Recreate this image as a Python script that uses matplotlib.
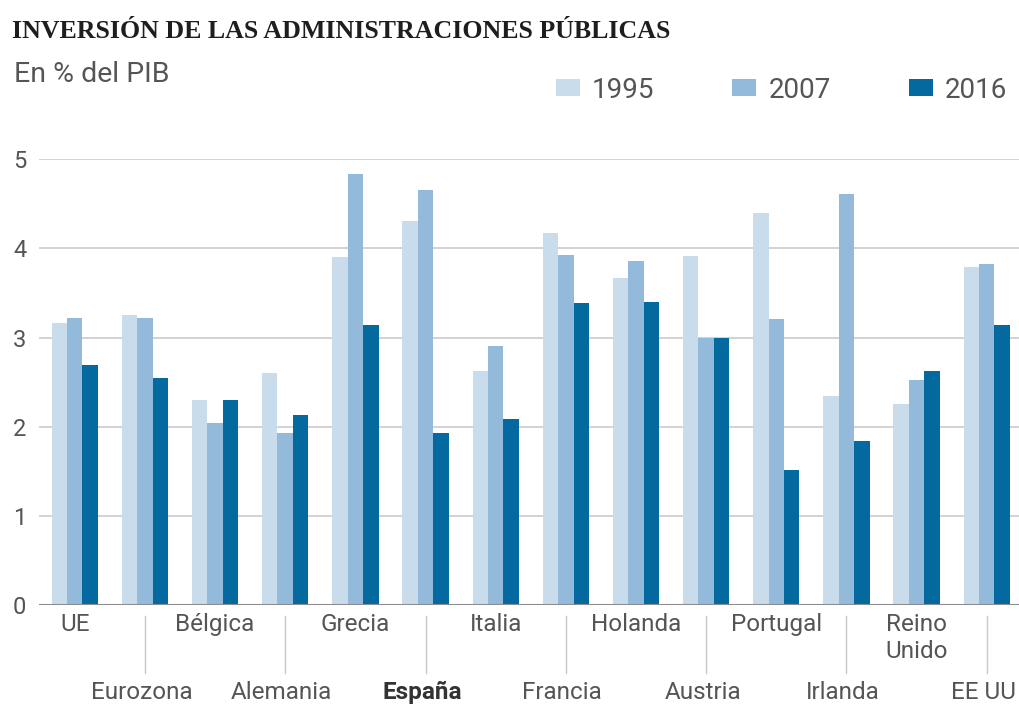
import matplotlib
matplotlib.use("Agg")
import matplotlib.pyplot as plt
import numpy as np

categories = ["UE", "Eurozona", "Bélgica", "Alemania", "Grecia", "España", "Italia",
              "Francia", "Holanda", "Austria", "Portugal", "Irlanda", "Reino\nUnido", "EE UU"]
years = ["1995", "2007", "2016"]
v1995 = [3.16, 3.25, 2.30, 2.60, 3.90, 4.31, 2.63, 4.17, 3.67, 3.91, 4.40, 2.35, 2.26, 3.79]
v2007 = [3.22, 3.22, 2.04, 1.93, 4.84, 4.65, 2.90, 3.93, 3.86, 3.00, 3.21, 4.61, 2.52, 3.82]
v2016 = [2.69, 2.55, 2.30, 2.13, 3.14, 1.93, 2.09, 3.39, 3.40, 3.00, 1.51, 1.84, 2.62, 3.14]
yticks = [0, 1, 2, 3, 4, 5]

colors = ["#c9dcec", "#94badb", "#04699f"]
W, H = 1020, 704
fig = plt.figure(figsize=(W / 100, H / 100), dpi=100)
ax_l, ax_r, ax_b, ax_t = 39, 1020, 605, 159.3
ax = fig.add_axes([ax_l / W, 1 - ax_b / H, (ax_r - ax_l) / W, (ax_b - ax_t) / H])

FONT = "Roboto"
GREY = "#555555"
x = np.arange(len(categories))
bw = 0.22
handles = []
for k, (vals, c) in enumerate(zip([v1995, v2007, v2016], colors)):
    b = ax.bar(x + (k - 1) * bw, vals, width=bw, color=c, zorder=3, linewidth=0)
    handles.append(b)

ax.set_xlim(-0.51, len(categories) - 1 + 0.475)
ax.set_ylim(0, 5)
ax.set_yticks(yticks)
ax.set_yticklabels([str(t) for t in yticks], fontfamily=FONT, fontsize=17, color=GREY)
ax.tick_params(axis="y", length=0, pad=9)
ax.set_xticks([])
for s in ax.spines.values():
    s.set_visible(False)
ax.yaxis.grid(True, color="#cfcfcf", linewidth=1.3, zorder=0)
ax.axhline(0, color="#8c8c8c", linewidth=1.5, zorder=4)

axh = ax_b - ax_t
trans = ax.get_xaxis_transform()
XFS = 17.5
for i, lab in enumerate(categories):
    bold = lab == "España"
    if i % 2 == 0:
        nlines = lab.count("\n")
        base = 631 + 27 * nlines
        ax.text(i, -(base - 605) / axh, lab, transform=trans, ha="center", va="baseline",
                fontfamily=FONT, fontsize=XFS, color=GREY, linespacing=1.22)
    else:
        ax.text(i - 0.05, -(699 - 605) / axh, lab, transform=trans, ha="center", va="baseline",
                fontfamily=FONT, fontsize=XFS, color="#333333" if bold else GREY,
                fontweight="bold" if bold else "normal")
        ax.plot([i, i], [-(616 - 605) / axh, -(673 - 605) / axh], transform=trans,
                color="#c8c8c8", linewidth=1.0, clip_on=False)

# Title, fitted to reference width
title = fig.text(12 / W, 1 - 38 / H, "INVERSIÓN DE LAS ADMINISTRACIONES PÚBLICAS",
                 fontfamily="Liberation Serif", fontweight="bold", fontsize=18,
                 color="#1e1e1e", ha="left", va="baseline")
r = fig.canvas.get_renderer()
wpx = title.get_window_extent(r).width
title.set_fontsize(18 * 658 / wpx)

fig.text(14 / W, 1 - 82 / H, "En % del PIB", fontfamily=FONT, fontsize=20.5,
         color=GREY, ha="left", va="baseline")

fs = 20
em = fs * 100 / 72
leg = ax.legend(handles, years, loc="center left", bbox_to_anchor=(556 / W, 1 - 90 / H),
                bbox_transform=fig.transFigure, ncol=3, frameon=False,
                prop={"family": FONT, "size": fs}, labelcolor=GREY,
                handlelength=24 / em, handleheight=16 / em, handletextpad=12 / em,
                columnspacing=78 / em, borderpad=0, borderaxespad=0)

fig.savefig("out.png", dpi=100)
